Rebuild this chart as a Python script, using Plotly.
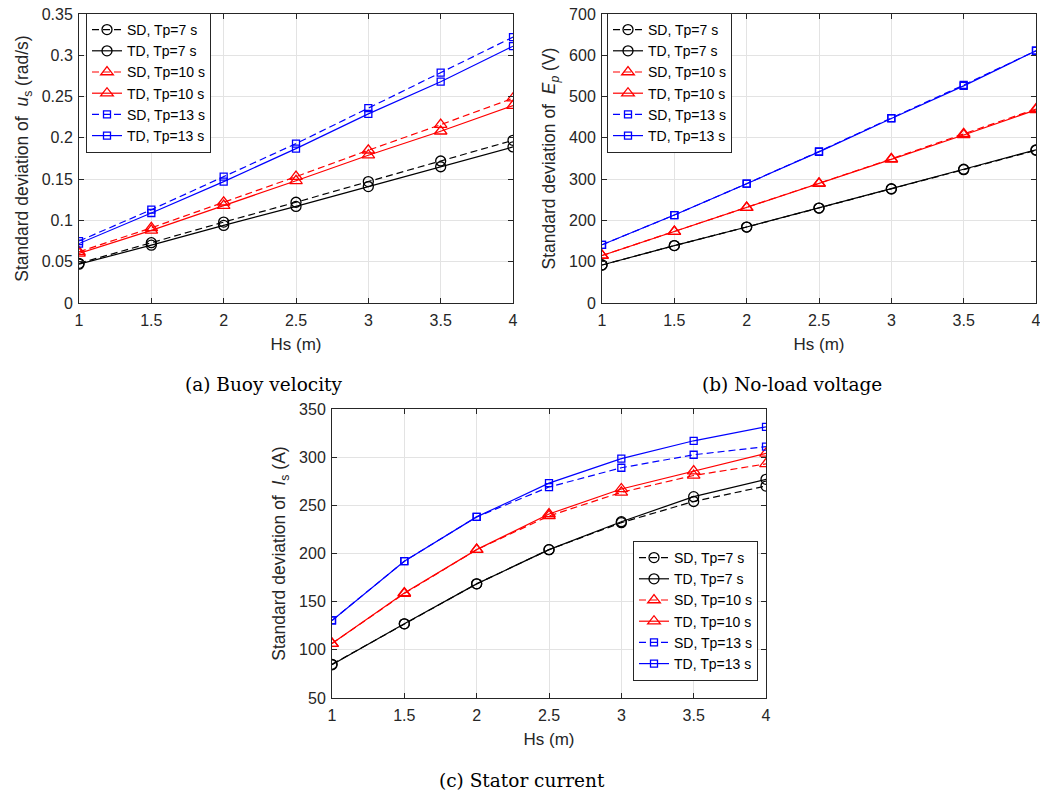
import plotly.graph_objects as go

# ---------------- data ----------------
hs = [1, 1.5, 2, 2.5, 3, 3.5, 4]

# (a) buoy velocity u_s (rad/s)
sd7_u = [0.048, 0.073, 0.098, 0.122, 0.147, 0.172, 0.197]
td7_u = [0.047, 0.070, 0.094, 0.117, 0.141, 0.165, 0.189]
sd10_u = [0.062, 0.091, 0.122, 0.153, 0.185, 0.216, 0.248]
td10_u = [0.060, 0.088, 0.118, 0.148, 0.179, 0.208, 0.239]
sd13_u = [0.075, 0.113, 0.153, 0.193, 0.236, 0.279, 0.322]
td13_u = [0.072, 0.109, 0.147, 0.187, 0.229, 0.268, 0.311]

# (b) no-load voltage E_p (V)
sd7_e = [92, 139, 184, 230, 276, 323, 370]
td7_e = [92, 139, 184, 230, 277, 324, 371]
sd10_e = [115, 173, 231, 290, 349, 410, 470]
td10_e = [115, 173, 231, 289, 348, 407, 468]
sd13_e = [141, 213, 289, 367, 448, 528, 611]
td13_e = [141, 213, 289, 366, 447, 526, 611]

# (c) stator current I_s (A)
sd7_i = [85, 127, 168.5, 204, 232, 254, 270]
td7_i = [84.5, 127, 168.5, 204, 233, 259, 277]
sd10_i = [106.5, 158.5, 204, 239, 263.5, 281, 293]
td10_i = [106.5, 159, 204, 241, 267, 285.5, 304]
sd13_i = [130.5, 192, 238, 269, 289, 302.5, 311]
td13_i = [130.5, 192, 238, 273, 298.5, 317, 331.5]

series_names = ["SD, Tp=7 s", "TD, Tp=7 s", "SD, Tp=10 s",
                "TD, Tp=10 s", "SD, Tp=13 s", "TD, Tp=13 s"]

x_ticks = [1, 1.5, 2, 2.5, 3, 3.5, 4]
x_ticktext = ["1", "1.5", "2", "2.5", "3", "3.5", "4"]
ya_ticks = [0, 0.05, 0.1, 0.15, 0.2, 0.25, 0.3, 0.35]
ya_ticktext = ["0", "0.05", "0.1", "0.15", "0.2", "0.25", "0.3", "0.35"]
yb_ticks = [0, 100, 200, 300, 400, 500, 600, 700]
yb_ticktext = ["0", "100", "200", "300", "400", "500", "600", "700"]
yc_ticks = [50, 100, 150, 200, 250, 300, 350]
yc_ticktext = ["50", "100", "150", "200", "250", "300", "350"]

captions = ["(a) Buoy velocity", "(b) No-load voltage", "(c) Stator current"]

# ---------------- styles ----------------
W, H = 1040, 793
colors = ["#000000", "#000000", "#ff0000", "#ff0000", "#0000ff", "#0000ff"]
symbols = ["circle-open", "circle-open", "triangle-up-open", "triangle-up-open",
           "square-open", "square-open"]
sizes = [10, 10, 11, 11, 7, 7]
dashes = ["7px,4px", "solid", "7px,4px", "solid", "7px,4px", "solid"]
AX = "#262626"
GRID = "#e3e3e3"
FONT = "Liberation Sans, Arial, sans-serif"

fig = go.Figure()

panels = [
    ([sd7_u, td7_u, sd10_u, td10_u, sd13_u, td13_u], "x", "y", "legend"),
    ([sd7_e, td7_e, sd10_e, td10_e, sd13_e, td13_e], "x2", "y2", "legend2"),
    ([sd7_i, td7_i, sd10_i, td10_i, sd13_i, td13_i], "x3", "y3", "legend3"),
]
for data, xa, ya, lg in panels:
    for k, yv in enumerate(data):
        fig.add_trace(go.Scatter(
            x=hs, y=yv, mode="lines+markers", name=series_names[k],
            xaxis=xa, yaxis=ya, legend=lg,
            line=dict(color=colors[k], width=1.2, dash=dashes[k]),
            marker=dict(symbol=symbols[k], size=sizes[k], color=colors[k],
                        line=dict(width=1.3, color=colors[k])),
        ))


def px_x(p):
    return p / W


def px_y(p):
    return 1 - p / H


common_x = dict(range=[1, 4], tickvals=x_ticks, ticktext=x_ticktext,
                showgrid=True, gridcolor=GRID, gridwidth=1,
                showline=True, linecolor=AX, linewidth=1, mirror="ticks",
                ticks="inside", ticklen=5, tickcolor=AX, zeroline=False,
                tickfont=dict(family=FONT, size=16, color=AX),
                ticklabelstandoff=3, ticklabeloverflow="allow",
                title=dict(text="Hs (m)", font=dict(family=FONT, size=17, color=AX),
                           standoff=9),
                automargin=False)
common_y = dict(showgrid=True, gridcolor=GRID, gridwidth=1,
                showline=True, linecolor=AX, linewidth=1, mirror="ticks",
                ticks="inside", ticklen=5, tickcolor=AX, zeroline=False,
                tickfont=dict(family=FONT, size=16, color=AX),
                ticklabelstandoff=2, ticklabeloverflow="allow",
                automargin=False)

ytitle_font = dict(family=FONT, size=17.5, color=AX)

fig.update_layout(
    width=W, height=H,
    margin=dict(l=0, r=0, t=0, b=0),
    paper_bgcolor="white", plot_bgcolor="white",
    showlegend=True,
    xaxis=dict(domain=[px_x(79), px_x(513)], anchor="y", **common_x),
    yaxis=dict(domain=[px_y(303), px_y(14)], anchor="x", range=[0, 0.35],
               tickvals=ya_ticks, ticktext=ya_ticktext,
               title=dict(text="Standard deviation of  <i>u</i><sub>s</sub> (rad/s)",
                          font=ytitle_font, standoff=8),
               **common_y),
    xaxis2=dict(domain=[px_x(602), px_x(1036)], anchor="y2", **common_x),
    yaxis2=dict(domain=[px_y(303), px_y(14)], anchor="x2", range=[0, 700],
                tickvals=yb_ticks, ticktext=yb_ticktext,
                title=dict(text="Standard deviation of  <i>E</i><sub><i>p</i></sub> (V)",
                           font=ytitle_font, standoff=8),
                **common_y),
    xaxis3=dict(domain=[px_x(332), px_x(766)], anchor="y3", **common_x),
    yaxis3=dict(domain=[px_y(698), px_y(409)], anchor="x3", range=[50, 350],
                tickvals=yc_ticks, ticktext=yc_ticktext,
                title=dict(text="Standard deviation of  <i>I</i><sub>s</sub> (A)",
                           font=ytitle_font, standoff=8),
                **common_y),
)

legend_common = dict(bgcolor="white", bordercolor=AX, borderwidth=1,
                     font=dict(family=FONT, size=14, color="#000000"),
                     xanchor="left", yanchor="top", tracegroupgap=0)
fig.update_layout(
    legend=dict(x=px_x(86), y=px_y(13), **legend_common),
    legend2=dict(x=px_x(607), y=px_y(13), **legend_common),
    legend3=dict(x=px_x(633), y=px_y(541), **legend_common),
)

cap_font = dict(family="DejaVu Serif, serif", size=18.5, color="#000000")
for text, cx, cy in [(captions[0], 263, 385), (captions[1], 792, 385), (captions[2], 522, 780)]:
    fig.add_annotation(text=text, x=px_x(cx), y=px_y(cy), xref="paper", yref="paper",
                       showarrow=False, xanchor="center", yanchor="middle", font=cap_font)

fig.write_html("out.html",
               config={"displayModeBar": False},
               post_script="document.body.style.margin='0px';"
                           "document.body.style.overflow='hidden';")
